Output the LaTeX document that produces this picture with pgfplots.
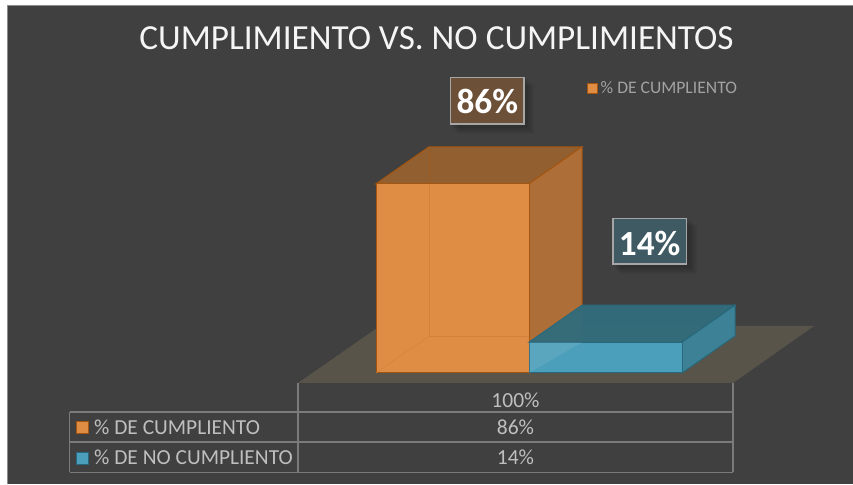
\documentclass[border=0pt]{standalone}
\usepackage{fontspec}
\setmainfont{Carlito}
\usepackage{pgfplots}
\pgfplotsset{compat=1.18}
\definecolor{panel}{HTML}{404040}
\definecolor{floorc}{HTML}{58544A}
\definecolor{ofront}{HTML}{DF8C45}
\definecolor{otop}{HTML}{925F31}
\definecolor{oside}{HTML}{AD6E38}
\definecolor{oedge}{HTML}{A4550F}
\definecolor{bfront}{HTML}{4C9FBA}
\definecolor{btop}{HTML}{326C7B}
\definecolor{bside}{HTML}{3C8195}
\definecolor{bedge}{HTML}{28687C}
\definecolor{tline}{HTML}{7B7B7B}
\definecolor{ttext}{HTML}{BFBFBF}
\definecolor{boxa}{HTML}{6C5038}
\definecolor{boxb}{HTML}{405A64}
\begin{document}
\begin{tikzpicture}
\path[use as bounding box] (0,0) rectangle (853pt,484pt);
\begin{scope}[x=1pt,y=-1pt,yshift=484pt]
\fill[white] (0,0) rectangle (853,484);
\fill[panel] (7.5,5) rectangle (853,484);
\draw[black!45,line width=0.6pt] (7.5,484) -- (7.5,5) -- (853,5);
\fill[floorc] (298,383) -- (733,383) -- (814,326) -- (380,326) -- cycle;
\end{scope}
\begin{axis}[
  at={(0pt,0pt)},anchor=south west,
  width=853pt,height=484pt,scale only axis,
  xmin=-2.95752,xmax=2.61765,ymin=-50.4545,ymax=169.545,
  ticks=none,axis line style={draw=none},clip=false]
% orange: back edges, top, side, front
\addplot[draw=oedge,line width=1pt,fill=otop] coordinates {(-0.5,86) (-0.1536,102.82) (0.8464,102.82) (0.5,86)} -- cycle;
\addplot[draw=oedge,line width=1pt,fill=oside] coordinates {(0.5,86) (0.8464,102.82) (0.8464,16.82) (0.5,0)} -- cycle;
\addplot[ybar,bar width=1,bar shift=0pt,draw=oedge,line width=1pt,fill=ofront] coordinates {(0,86)};
\addplot[draw=oedge!18!ofront,line width=0.4pt] coordinates {(-0.1536,86) (-0.1536,16.82) (0.5,16.82)};
\addplot[draw=oedge!18!ofront,line width=0.4pt] coordinates {(-0.5,0) (-0.1536,16.82)};
\addplot[draw=oedge!50!otop,line width=0.4pt] coordinates {(-0.1536,102.82) (-0.1536,86)};
% blue
\addplot[draw=bedge,line width=1pt,fill=btop,fill opacity=0.97] coordinates {(0.5,14) (0.8464,30.82) (1.8464,30.82) (1.5,14)} -- cycle;
\addplot[draw=bedge,line width=1pt,fill=bside] coordinates {(1.5,14) (1.8464,30.82) (1.8464,16.82) (1.5,0)} -- cycle;
\addplot[ybar,bar width=1,bar shift=0pt,draw=bedge,line width=1pt,fill=bfront] coordinates {(1,14)};
\addplot[draw=none,fill=white,fill opacity=0.08] coordinates {(0.5,0) (0.8464,14) (0.5,14)} -- cycle;
\end{axis}
\begin{scope}[x=1pt,y=-1pt,yshift=484pt]
% title
\node[text=white!96!black,font=\fontsize{35.2}{40}\selectfont,anchor=center] at (436.5,38) {CUMPLIMIENTO VS. NO CUMPLIMIENTOS};
% data labels with soft shadows
\foreach \a/\b/\c/\d in {450.7/77.7/524/124, 613/218.7/686.5/264}{
  \foreach \s in {10,8,6,4}{
    \fill[black,opacity=0.06] (\a+\s-3,\b+\s-3) rectangle (\c+\s,\d+\s);
  }
}
\draw[fill=boxa,draw=white!65!black,line width=1.3pt] (450.7,77.7) rectangle (524,124);
\draw[fill=boxb,draw=white!65!black,line width=1.3pt] (613,218.7) rectangle (686.5,264);
\node[text=white,font=\fontsize{35.3}{40}\selectfont\bfseries] at (487.3,101) {86\%};
\node[text=white,font=\fontsize{35.3}{40}\selectfont\bfseries] at (649.7,243) {14\%};
% top legend
\draw[fill=ofront,draw=oedge,line width=0.8pt] (587,83) rectangle (597,93);
\node[text=ttext!85!black,font=\fontsize{17.6}{20}\selectfont,anchor=west,inner sep=0pt] at (600.5,87.5) {\% DE CUMPLIENTO};
% data table
\draw[tline,line width=1.3pt] (298,383) -- (298,472.5) (733,383) -- (733,472.5) (69.5,412) -- (69.5,472.5)
  (69.5,412) -- (733,412) (69.5,442) -- (733,442) (69.5,472.5) -- (733,472.5);
\node[text=ttext,font=\fontsize{21.5}{24}\selectfont] at (515.5,400) {100\%};
\node[text=ttext,font=\fontsize{21.5}{24}\selectfont] at (515.5,427) {86\%};
\node[text=ttext,font=\fontsize{21.5}{24}\selectfont] at (515.5,457.5) {14\%};
\draw[fill=ofront,draw=oedge,line width=0.9pt] (76.5,421) rectangle (88.5,433);
\draw[fill=bfront,draw=bedge,line width=0.9pt] (76.5,452) rectangle (88.5,464);
\node[text=ttext,font=\fontsize{21.4}{24}\selectfont,anchor=west,inner sep=0pt] at (94,427) {\% DE CUMPLIENTO};
\node[text=ttext,font=\fontsize{21.4}{24}\selectfont,anchor=west,inner sep=0pt] at (94,457.5) {\% DE NO CUMPLIENTO};
\end{scope}
\end{tikzpicture}
\end{document}
